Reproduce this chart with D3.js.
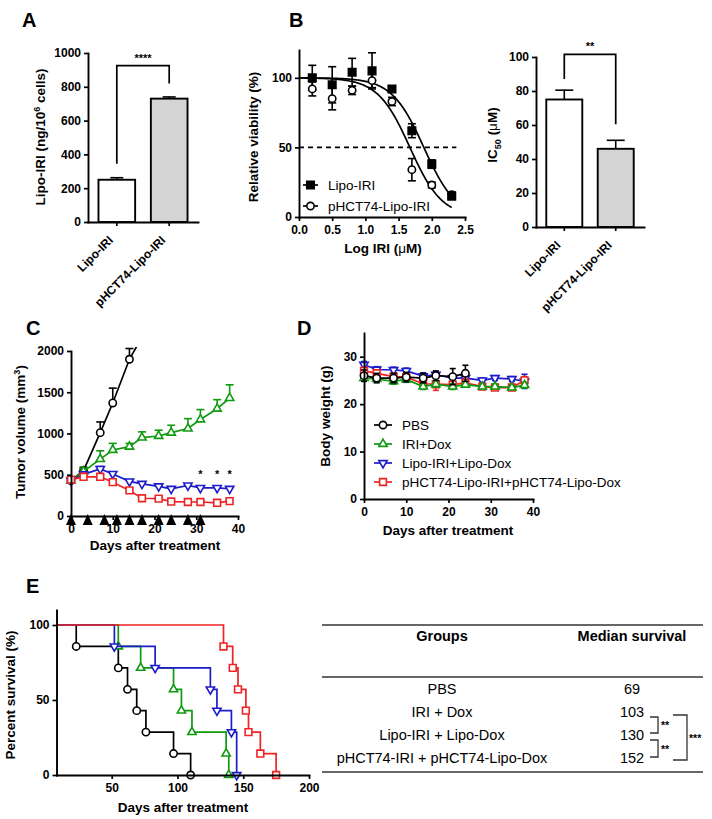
<!DOCTYPE html>
<html>
<head>
<meta charset="utf-8">
<script src="https://cdn.jsdelivr.net/npm/d3@7"></script>
<style>
  body { margin: 0; background: #fff; }
</style>
</head>
<body>
<div id="fig"></div>
<script>
// ---------- data ----------
var uptakeGroups = ["Lipo-IRI", "pHCT74-Lipo-IRI"];
var uptakeMean = [250, 730];
var uptakeErr = [12, 10];

var logDose = [0.2, 0.5, 0.8, 1.1, 1.4, 1.7, 2.0, 2.3];
var viabLipo = [100, 95, 104, 105, 92, 62, 38, 15];
var viabLipoErr = [9, 13, 10, 13, 2, 5, 3, 2];
var viabPhct = [92, 85, 91, 98, 83, 34, 23, 16];
var viabPhctErr = [5, 8, 3, 5, 3, 8, 2, 2];
var fitLogIC50 = [1.88, 1.67];   // fitted curves, Lipo-IRI / pHCT74-Lipo-IRI
var fitHill = [1.8, 1.8];

var ic50Mean = [75, 46];
var ic50Err = [5.5, 5];

var days = [0, 3, 7, 10, 14, 17, 21, 24, 28, 31, 35, 38];
var pbsDays = [0, 3, 7, 10, 14, 17];
var tumorPBS = [430, 550, 1010, 1370, 1900, 2170];
var tumorPBSErr = [20, 40, 130, 180, 130, 0];
var tumorIRI = [430, 540, 690, 800, 840, 950, 970, 1010, 1060, 1170, 1300, 1430];
var tumorIRIErr = [20, 40, 100, 80, 40, 70, 70, 90, 120, 120, 110, 160];
var tumorLipo = [430, 505, 570, 510, 420, 390, 360, 330, 370, 340, 340, 330];
var tumorLipoErr = [20, 30, 30, 20, 20, 20, 15, 15, 20, 15, 15, 15];
var tumorPhct = [440, 475, 475, 410, 310, 215, 210, 175, 170, 170, 160, 180];
var tumorPhctErr = [30, 20, 20, 20, 20, 15, 15, 10, 10, 10, 10, 15];
var doseDays = [0, 4, 8, 11, 14, 17, 21, 24, 28, 31];
var starDays = [31, 35, 38];

var pbsWeightDays = [0, 3, 7, 10, 14, 17, 21, 24];
var weightPBS = [26, 25.5, 25.5, 25.7, 25.5, 26, 25.8, 26.5];
var weightPBSErr = [1.2, 1, 1, 1, 1, 1, 1.7, 1.7];
var weightIRI = [25.5, 25.3, 24.8, 25.2, 23.7, 24.2, 23.7, 24.1, 23.7, 23.7, 23.5, 24];
var weightIRIErr = [0.6, 0.6, 0.6, 0.6, 0.6, 0.6, 0.6, 0.5, 0.5, 0.5, 0.5, 0.6];
var weightLipo = [28.3, 27.3, 27.2, 27, 25.9, 26.2, 25.5, 25.5, 25, 25.5, 25.3, 24.8];
var weightLipoErr = [0.7, 0.6, 0.6, 0.6, 0.7, 0.7, 0.6, 0.5, 0.5, 0.5, 0.5, 1.5];
var weightPhct = [27, 26.5, 25.8, 25.7, 24.3, 24.2, 24.1, 24.5, 23.7, 23.5, 23.5, 25];
var weightPhctErr = [0.7, 0.6, 0.6, 0.6, 0.6, 1.3, 0.6, 0.5, 0.5, 0.5, 0.5, 0.8];

var groupNames = ["PBS", "IRI+Dox", "Lipo-IRI+Lipo-Dox", "pHCT74-Lipo-IRI+pHCT74-Lipo-Dox"];
var groupColors = ["#000000", "#109a10", "#1c1cc8", "#ee2424"];
var groupSymbols = ["circle", "triangle", "triangleDown", "square"];

// Kaplan-Meier events: time of death and survival level after it
var kmTimes = [
  [23, 55, 62, 69, 76, 97, 110],
  [55, 72, 97, 103, 111, 137, 139],
  [52, 83, 125, 130, 141, 145],
  [135, 142, 146, 152, 154, 163, 175]
];
var kmSurv = [
  [85.7, 71.4, 57.1, 42.9, 28.6, 14.3, 0],
  [85.7, 71.4, 57.1, 42.9, 28.6, 14.3, 0],
  [85.7, 71.4, 57.1, 42.9, 28.6, 0],
  [85.7, 71.4, 57.1, 42.9, 28.6, 14.3, 0]
];

var tableGroups = ["PBS", "IRI + Dox", "Lipo-IRI + Lipo-Dox", "pHCT74-IRI + pHCT74-Lipo-Dox"];
var tableMedian = [69, 103, 130, 152];

// ---------- setup ----------
var FONT = "'Liberation Sans', Arial, sans-serif";
var W = 712, H = 819;
var LW = 1.7;
var svg = d3.select("#fig").append("svg").attr("width", W).attr("height", H)
  .attr("font-family", FONT);
svg.append("rect").attr("width", W).attr("height", H).attr("fill", "#fff");

function styleAxis(g) {
  g.attr("font-family", FONT).attr("font-size", 12).attr("font-weight", "bold");
  g.selectAll(".domain").attr("stroke", "#000").attr("stroke-width", 1.9).attr("stroke-linecap", "square");
  g.selectAll(".tick line").attr("stroke", "#000").attr("stroke-width", 1.7);
  g.selectAll(".tick text").attr("fill", "#000");
  return g;
}
function leftAxis(scale, x, ticks) {
  var g = svg.append("g").attr("transform", "translate(" + x + ",0)")
    .call(d3.axisLeft(scale).tickValues(ticks).tickSize(4).tickPadding(3).tickSizeOuter(0).tickFormat(d3.format("d")));
  return styleAxis(g);
}
function bottomAxis(scale, y, ticks, fmt) {
  var ax = d3.axisBottom(scale).tickSize(4).tickPadding(4).tickSizeOuter(0);
  if (ticks) ax.tickValues(ticks).tickFormat(fmt || d3.format("d"));
  var g = svg.append("g").attr("transform", "translate(0," + y + ")").call(ax);
  return styleAxis(g);
}
function rotateLabels(g) {
  g.selectAll(".tick text").attr("x", 0).attr("y", 0).attr("dy", "0.35em")
    .attr("text-anchor", "end").attr("transform", "translate(-6,16) rotate(-45)");
}
function yTitle(x, y, parts) {
  var t = svg.append("text").attr("transform", "translate(" + x + "," + y + ") rotate(-90)")
    .attr("text-anchor", "middle").attr("font-size", 13.5).attr("font-weight", "bold");
  parts.forEach(function (p) {
    var s = t.append("tspan").text(p.t);
    if (p.sup) s.attr("font-size", 9).attr("dy", -5);
    if (p.back) s.attr("dy", p.back);
  });
  return t;
}
function xTitle(x, y, txt) {
  svg.append("text").attr("x", x).attr("y", y).attr("text-anchor", "middle")
    .attr("font-size", 13.5).attr("font-weight", "bold").text(txt);
}
function panelLetter(x, y, s) {
  svg.append("text").attr("x", x).attr("y", y).attr("font-size", 20).attr("font-weight", "bold").text(s);
}
function symbolPath(type, size) {
  var t = type === "circle" ? d3.symbolCircle : type === "square" ? d3.symbolSquare : d3.symbolTriangle;
  return d3.symbol().type(t).size(size)();
}
var symSize = { circle: 42, square: 46, triangle: 30, triangleDown: 30 };
function drawMarker(g, type, x, y, color, filled, size) {
  g.append("path").attr("d", symbolPath(type, size || symSize[type]))
    .attr("transform", "translate(" + x + "," + y + ")" + (type === "triangleDown" ? " rotate(180)" : ""))
    .attr("fill", filled ? color : "#fff").attr("stroke", color).attr("stroke-width", 1.6);
}
function errBar(g, x, y1, y2, cap, color) {
  g.append("line").attr("x1", x).attr("x2", x).attr("y1", y1).attr("y2", y2)
    .attr("stroke", color).attr("stroke-width", 1.6);
  g.append("line").attr("x1", x - cap / 2).attr("x2", x + cap / 2).attr("y1", y2).attr("y2", y2)
    .attr("stroke", color).attr("stroke-width", 1.6);
}
function bracket(g, x1, x2, yTop, y1, y2) {
  g.append("path").attr("d", "M" + x1 + "," + y1 + "V" + yTop + "H" + x2 + "V" + y2)
    .attr("fill", "none").attr("stroke", "#000").attr("stroke-width", 1.7);
}

// ---------- Panel A ----------
(function () {
  var x = d3.scaleBand().domain(uptakeGroups).range([88, 198]).paddingInner(0.3).paddingOuter(0.2);
  var y = d3.scaleLinear().domain([0, 1000]).range([222, 53]);
  var g = svg.append("g");
  var fills = ["#fff", "#d4d4d4"];
  uptakeGroups.forEach(function (c, i) {
    var cx = x(c) + x.bandwidth() / 2;
    errBar(g, cx, y(uptakeMean[i]), y(uptakeMean[i] + uptakeErr[i]), 13, "#000");
    g.append("rect").attr("x", x(c)).attr("y", y(uptakeMean[i])).attr("width", x.bandwidth())
      .attr("height", y(0) - y(uptakeMean[i])).attr("fill", fills[i]).attr("stroke", "#000").attr("stroke-width", 1.9);
  });
  leftAxis(y, 88, [0, 200, 400, 600, 800, 1000]);
  rotateLabels(bottomAxis(x, 222));
  var c0 = x(uptakeGroups[0]) + x.bandwidth() / 2, c1 = x(uptakeGroups[1]) + x.bandwidth() / 2;
  bracket(g, c0, c1, y(925), y(345), y(820));
  g.append("text").attr("x", (c0 + c1) / 2).attr("y", y(925) - 4).attr("text-anchor", "middle")
    .attr("font-size", 11).attr("font-weight", "bold").text("****");
  yTitle(45, 137, [{ t: "Lipo-IRI (ng/10" }, { t: "6", sup: true }, { t: " cells)", back: 5 }]);
  panelLetter(22, 27, "A");
})();

// ---------- Panel B (left) ----------
(function () {
  var x = d3.scaleLinear().domain([0, 2.5]).range([299, 465]);
  var y = d3.scaleLinear().domain([0, 120]).range([217, 50]);
  var g = svg.append("g");
  g.append("line").attr("x1", x(0)).attr("x2", x(2.37)).attr("y1", y(50)).attr("y2", y(50))
    .attr("stroke", "#000").attr("stroke-width", 1.7).attr("stroke-dasharray", "5,4");
  var grid = d3.range(0, 2.3001, 0.02);
  var line = d3.line().x(function (d) { return x(d[0]); }).y(function (d) { return y(d[1]); });
  fitLogIC50.forEach(function (ic, k) {
    var pts = grid.map(function (v) { return [v, 100 / (1 + Math.pow(10, (v - ic) * fitHill[k]))]; });
    g.append("path").attr("d", line(pts)).attr("fill", "none").attr("stroke", "#000").attr("stroke-width", LW);
  });
  logDose.forEach(function (d, i) {
    var yy = viabLipo[i], e = viabLipoErr[i];
    errBar(g, x(d), y(yy), y(yy + e), 8, "#000");
    errBar(g, x(d), y(yy), y(yy - e), 8, "#000");
    yy = viabPhct[i]; e = viabPhctErr[i];
    errBar(g, x(d), y(yy), y(yy + e), 8, "#000");
    errBar(g, x(d), y(yy), y(yy - e), 8, "#000");
  });
  logDose.forEach(function (d, i) {
    drawMarker(g, "circle", x(d), y(viabPhct[i]), "#000", false, 42);
    drawMarker(g, "square", x(d), y(viabLipo[i]), "#000", true, 56);
  });
  leftAxis(y, 299, [0, 50, 100]);
  bottomAxis(x, 217, [0, 0.5, 1, 1.5, 2, 2.5], d3.format(".1f"));
  // legend
  var leg = [["Lipo-IRI", "square", true], ["pHCT74-Lipo-IRI", "circle", false]];
  leg.forEach(function (l, i) {
    var ly = 185 + i * 21;
    g.append("line").attr("x1", 303).attr("x2", 318).attr("y1", ly).attr("y2", ly).attr("stroke", "#000").attr("stroke-width", LW);
    drawMarker(g, l[1], 310.5, ly, "#000", l[2], l[2] ? 56 : 42);
    g.append("text").attr("x", 328).attr("y", ly + 4.5).attr("font-size", 13.5).text(l[0]);
  });
  yTitle(258, 137, [{ t: "Relative viability (%)" }]);
  var t = svg.append("text").attr("x", 383).attr("y", 253).attr("text-anchor", "middle")
    .attr("font-size", 13.5).attr("font-weight", "bold");
  t.append("tspan").text("Log IRI (");
  t.append("tspan").attr("font-weight", "normal").text("\u03bc");
  t.append("tspan").text("M)");
  panelLetter(289, 27, "B");
})();

// ---------- Panel B (right) ----------
(function () {
  var x = d3.scaleBand().domain(uptakeGroups).range([536, 644]).paddingInner(0.3).paddingOuter(0.2);
  var y = d3.scaleLinear().domain([0, 100]).range([227, 57]);
  var g = svg.append("g");
  var fills = ["#fff", "#d4d4d4"];
  uptakeGroups.forEach(function (c, i) {
    var cx = x(c) + x.bandwidth() / 2;
    errBar(g, cx, y(ic50Mean[i]), y(ic50Mean[i] + ic50Err[i]), 18, "#000");
    g.append("rect").attr("x", x(c)).attr("y", y(ic50Mean[i])).attr("width", x.bandwidth())
      .attr("height", y(0) - y(ic50Mean[i])).attr("fill", fills[i]).attr("stroke", "#000").attr("stroke-width", 1.9);
  });
  leftAxis(y, 536, [0, 20, 40, 60, 80, 100]);
  rotateLabels(bottomAxis(x, 227));
  var c0 = x(uptakeGroups[0]) + x.bandwidth() / 2, c1 = x(uptakeGroups[1]) + x.bandwidth() / 2;
  bracket(g, c0, c1, y(101.5), y(87), y(60.5));
  g.append("text").attr("x", (c0 + c1) / 2).attr("y", y(101.5) - 4).attr("text-anchor", "middle")
    .attr("font-size", 11).attr("font-weight", "bold").text("**");
  var t = svg.append("text").attr("transform", "translate(497,135) rotate(-90)")
    .attr("text-anchor", "middle").attr("font-size", 13.5).attr("font-weight", "bold");
  t.append("tspan").text("IC");
  t.append("tspan").attr("font-size", 9).attr("dy", 4).text("50");
  t.append("tspan").attr("dy", -4).text(" (");
  t.append("tspan").attr("font-weight", "normal").text("\u03bc");
  t.append("tspan").text("M)");
})();

// ---------- Panel C ----------
(function () {
  var x = d3.scaleLinear().domain([0, 40]).range([71, 238]);
  var y = d3.scaleLinear().domain([0, 2000]).range([516, 351]);
  var clipId = "clipC";
  svg.append("clipPath").attr("id", clipId).append("rect")
    .attr("x", 60).attr("y", y(2050)).attr("width", 200).attr("height", y(0) - y(2050) + 20);
  var g = svg.append("g");
  var series = [
    [pbsDays, tumorPBS, tumorPBSErr],
    [days, tumorIRI, tumorIRIErr],
    [days, tumorLipo, tumorLipoErr],
    [days, tumorPhct, tumorPhctErr]
  ];
  var line = d3.line().x(function (d) { return x(d[0]); }).y(function (d) { return y(d[1]); });
  series.forEach(function (s, k) {
    var col = groupColors[k];
    var gg = g.append("g").attr("clip-path", "url(#" + clipId + ")");
    var pts = s[0].map(function (d, i) { return [d, s[1][i]]; });
    s[0].forEach(function (d, i) {
      if (s[2][i] > 0) errBar(gg, x(d), y(s[1][i]), y(s[1][i] + s[2][i]), 8, col);
    });
    gg.append("path").attr("d", line(pts)).attr("fill", "none").attr("stroke", col).attr("stroke-width", LW);
    pts.forEach(function (p) {
      if (p[1] <= 2000) drawMarker(gg, groupSymbols[k], x(p[0]), y(p[1]), col, false);
    });
  });
  leftAxis(y, 71, [0, 500, 1000, 1500, 2000]);
  bottomAxis(x, 516, [0, 10, 20, 30, 40]);
  doseDays.forEach(function (d) {
    var cx = x(d), top = 514;
    g.append("path").attr("d", "M" + cx + "," + top + "L" + (cx + 5) + "," + (top + 11) + "L" + (cx - 5) + "," + (top + 11) + "Z")
      .attr("fill", "#000");
  });
  starDays.forEach(function (d) {
    g.append("text").attr("x", x(d)).attr("y", y(520) + 5).attr("text-anchor", "middle")
      .attr("font-size", 11).attr("font-weight", "bold").text("*");
  });
  yTitle(25, 432, [{ t: "Tumor volume (mm" }, { t: "3", sup: true }, { t: ")", back: 5 }]);
  xTitle(155, 550, "Days after treatment");
  panelLetter(26, 335, "C");
})();

// ---------- Panel D ----------
(function () {
  var x = d3.scaleLinear().domain([0, 40]).range([364, 533]);
  var y = d3.scaleLinear().domain([0, 35]).range([499, 333]);
  var g = svg.append("g");
  var series = [
    [pbsWeightDays, weightPBS, weightPBSErr],
    [days, weightIRI, weightIRIErr],
    [days, weightLipo, weightLipoErr],
    [days, weightPhct, weightPhctErr]
  ];
  var line = d3.line().x(function (d) { return x(d[0]); }).y(function (d) { return y(d[1]); });
  var order = [2, 3, 1, 0];
  order.forEach(function (k) {
    var s = series[k], col = groupColors[k];
    var pts = s[0].map(function (d, i) { return [d, s[1][i]]; });
    s[0].forEach(function (d, i) {
      errBar(g, x(d), y(s[1][i]), y(s[1][i] + s[2][i]), 6, col);
      errBar(g, x(d), y(s[1][i]), y(s[1][i] - s[2][i]), 6, col);
    });
    g.append("path").attr("d", line(pts)).attr("fill", "none").attr("stroke", col).attr("stroke-width", LW);
    pts.forEach(function (p) { drawMarker(g, groupSymbols[k], x(p[0]), y(p[1]), col, false); });
  });
  leftAxis(y, 364, [0, 10, 20, 30]);
  bottomAxis(x, 499, [0, 10, 20, 30, 40]);
  groupNames.forEach(function (n, k) {
    var ly = 425 + k * 19;
    g.append("line").attr("x1", 374).attr("x2", 392).attr("y1", ly).attr("y2", ly)
      .attr("stroke", groupColors[k]).attr("stroke-width", LW);
    drawMarker(g, groupSymbols[k], 383, ly, groupColors[k], false);
    g.append("text").attr("x", 402).attr("y", ly + 5).attr("font-size", 13.5).text(n);
  });
  yTitle(330, 416, [{ t: "Body weight (g)" }]);
  xTitle(448, 535, "Days after treatment");
  panelLetter(297, 335, "D");
})();

// ---------- Panel E ----------
(function () {
  var x = d3.scaleLinear().domain([8, 200]).range([56.5, 309]);
  var y = d3.scaleLinear().domain([0, 110]).range([775, 610]);
  var g = svg.append("g");
  [0, 1, 2, 3].forEach(function (k) {
    var col = groupColors[k];
    var pts = [[8, 100]], prev = 100;
    kmTimes[k].forEach(function (t, i) {
      pts.push([t, prev]); pts.push([t, kmSurv[k][i]]); prev = kmSurv[k][i];
    });
    var line = d3.line().x(function (d) { return x(d[0]); }).y(function (d) { return y(d[1]); });
    g.append("path").attr("d", line(pts)).attr("fill", "none").attr("stroke", col).attr("stroke-width", LW);
    kmTimes[k].forEach(function (t, i) {
      drawMarker(g, groupSymbols[k], x(t), y(kmSurv[k][i]), col, false);
    });
  });
  leftAxis(y, 56.5, [0, 50, 100]);
  bottomAxis(x, 775, [50, 100, 150, 200]);
  yTitle(15, 695, [{ t: "Percent survival (%)" }]);
  xTitle(183, 812, "Days after treatment");
  panelLetter(26, 593, "E");
})();

// ---------- Table ----------
(function () {
  var g = svg.append("g").attr("font-size", 14.5);
  var colX = [442, 632];
  var rowY = d3.scalePoint().domain(tableGroups).range([694, 763]);
  [625, 677, 772].forEach(function (ly) {
    g.append("line").attr("x1", 322).attr("x2", 703).attr("y1", ly).attr("y2", ly)
      .attr("stroke", "#333").attr("stroke-width", 1.7);
  });
  g.append("text").attr("x", colX[0]).attr("y", 641).attr("text-anchor", "middle").attr("font-weight", "bold").text("Groups");
  g.append("text").attr("x", colX[1]).attr("y", 641).attr("text-anchor", "middle").attr("font-weight", "bold").text("Median survival");
  tableGroups.forEach(function (n, i) {
    g.append("text").attr("x", colX[0]).attr("y", rowY(n)).attr("text-anchor", "middle").text(n);
    g.append("text").attr("x", colX[1]).attr("y", rowY(n)).attr("text-anchor", "middle").text(tableMedian[i]);
  });
  function sb(a, b, x1, x2, tx, label, o1, o2) {
    var ya = rowY(tableGroups[a]) - 5 + o1, yb = rowY(tableGroups[b]) - 5 + o2;
    g.append("path").attr("d", "M" + x1 + "," + ya + "H" + x2 + "V" + yb + "H" + x1)
      .attr("fill", "none").attr("stroke", "#333").attr("stroke-width", 1.3);
    g.append("text").attr("x", tx).attr("y", (ya + yb) / 2 + 4).attr("font-size", 10.5).attr("font-weight", "bold").text(label);
  }
  sb(1, 2, 650, 658, 661, "**", 5, -2);
  sb(2, 3, 650, 658, 661, "**", 5, -1);
  sb(1, 3, 673, 687, 689, "***", 3, 2);
})();
</script>
</body>
</html>
